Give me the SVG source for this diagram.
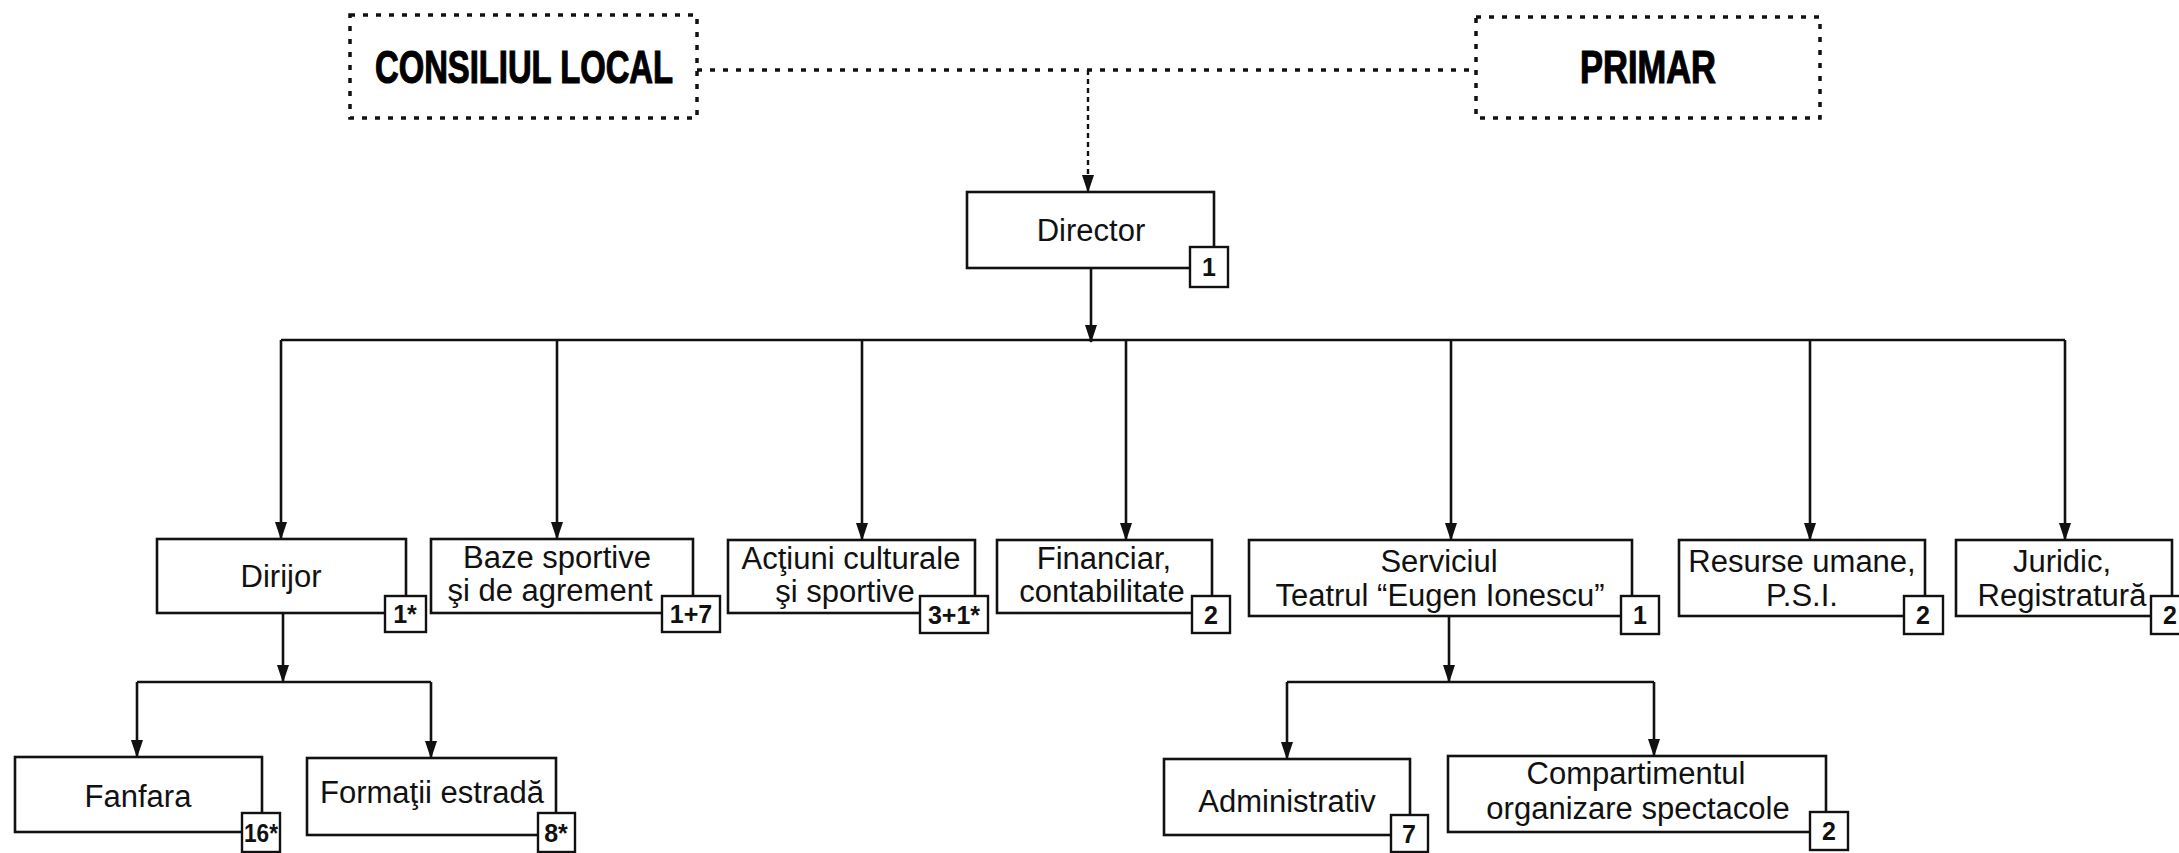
<svg xmlns="http://www.w3.org/2000/svg" width="2179" height="853" viewBox="0 0 2179 853">
<style>
  .box{fill:#fff;stroke:#111;stroke-width:2.6}
  .dbox{fill:#fff;stroke:#111;stroke-width:3.5;stroke-dasharray:5 8}
  .badge{fill:#fff;stroke:#111;stroke-width:2.4}
  .t{font-family:"Liberation Sans",Arial,Helvetica,sans-serif;font-size:31px;fill:#111;text-anchor:middle}
  .b{font-family:"Liberation Sans",Arial,Helvetica,sans-serif;font-size:25px;font-weight:bold;fill:#111;text-anchor:middle}
  .h{font-family:"Liberation Sans",Arial,Helvetica,sans-serif;font-size:46px;font-weight:bold;fill:#000;stroke:#000;stroke-width:1.2;text-anchor:middle}
  .ln{fill:none;stroke:#111;stroke-width:2.6}
  .dl{fill:none;stroke:#111;stroke-width:3.5;stroke-dasharray:5 8}
  .dv{fill:none;stroke:#111;stroke-width:2.4;stroke-dasharray:5 4}
</style>
<defs>
  <marker id="arr" viewBox="0 0 18 12" refX="17" refY="6" markerWidth="18" markerHeight="12" markerUnits="userSpaceOnUse" orient="auto">
    <path d="M0,0 L18,6 L0,12 Z" fill="#111"/>
  </marker>
</defs>
<rect width="2179" height="853" fill="#fff"/>

<g id="connectors">
  <path class="dl" d="M697,70 H1476"/>
  <path class="dv" d="M1088,70 V192" marker-end="url(#arr)"/>
  <path class="ln" d="M1091,268 V342" marker-end="url(#arr)"/>
  <path class="ln" d="M281,340 H2065"/>
  <path class="ln" d="M281,340 V539" marker-end="url(#arr)"/>
  <path class="ln" d="M557,340 V539" marker-end="url(#arr)"/>
  <path class="ln" d="M862,340 V540" marker-end="url(#arr)"/>
  <path class="ln" d="M1126,340 V540" marker-end="url(#arr)"/>
  <path class="ln" d="M1451,340 V540" marker-end="url(#arr)"/>
  <path class="ln" d="M1810,340 V540" marker-end="url(#arr)"/>
  <path class="ln" d="M2065,340 V540" marker-end="url(#arr)"/>
  <path class="ln" d="M283,613 V682" marker-end="url(#arr)"/>
  <path class="ln" d="M137,682 H431"/>
  <path class="ln" d="M137,682 V757" marker-end="url(#arr)"/>
  <path class="ln" d="M431,682 V758" marker-end="url(#arr)"/>
  <path class="ln" d="M1449,616 V682" marker-end="url(#arr)"/>
  <path class="ln" d="M1287,682 H1654"/>
  <path class="ln" d="M1287,682 V759" marker-end="url(#arr)"/>
  <path class="ln" d="M1654,682 V756" marker-end="url(#arr)"/>
</g>

<g id="consiliul">
  <rect class="dbox" x="350" y="15" width="347" height="103"/>
  <text class="h" x="524" y="83" textLength="298" lengthAdjust="spacingAndGlyphs">CONSILIUL LOCAL</text>
</g>
<g id="primar">
  <rect class="dbox" x="1476" y="17" width="344" height="101"/>
  <text class="h" x="1648" y="83" textLength="136" lengthAdjust="spacingAndGlyphs">PRIMAR</text>
</g>

<g id="director">
  <rect class="box" x="967" y="192" width="247" height="76"/>
  <text class="t" x="1091" y="241">Director</text>
  <rect class="badge" x="1190" y="247" width="38" height="40"/>
  <text class="b" x="1209" y="276">1</text>
</g>

<g id="dirijor">
  <rect class="box" x="157" y="539" width="249" height="74"/>
  <text class="t" x="281" y="587">Dirijor</text>
  <rect class="badge" x="385" y="596" width="41" height="36"/>
  <text class="b" x="405" y="623">1*</text>
</g>

<g id="baze">
  <rect class="box" x="431" y="539" width="262" height="74"/>
  <text class="t" x="557" y="568">Baze sportive</text>
  <text class="t" x="550" y="601">şi de agrement</text>
  <rect class="badge" x="662" y="596" width="58" height="36"/>
  <text class="b" x="691" y="623">1+7</text>
</g>

<g id="actiuni">
  <rect class="box" x="728" y="540" width="247" height="73"/>
  <text class="t" x="851" y="569">Acţiuni culturale</text>
  <text class="t" x="845" y="602">şi sportive</text>
  <rect class="badge" x="920" y="596" width="68" height="37"/>
  <text class="b" x="954" y="624">3+1*</text>
</g>

<g id="financiar">
  <rect class="box" x="997" y="540" width="215" height="73"/>
  <text class="t" x="1104" y="569">Financiar,</text>
  <text class="t" x="1102" y="602">contabilitate</text>
  <rect class="badge" x="1192" y="596" width="38" height="37"/>
  <text class="b" x="1211" y="624">2</text>
</g>

<g id="serviciul">
  <rect class="box" x="1249" y="540" width="383" height="76"/>
  <text class="t" x="1439" y="572">Serviciul</text>
  <text class="t" x="1440" y="606">Teatrul “Eugen Ionescu”</text>
  <rect class="badge" x="1621" y="596" width="38" height="38"/>
  <text class="b" x="1640" y="624">1</text>
</g>

<g id="resurse">
  <rect class="box" x="1679" y="540" width="246" height="76"/>
  <text class="t" x="1802" y="572">Resurse umane,</text>
  <text class="t" x="1802" y="606">P.S.I.</text>
  <rect class="badge" x="1904" y="596" width="39" height="38"/>
  <text class="b" x="1923" y="624">2</text>
</g>

<g id="juridic">
  <rect class="box" x="1956" y="540" width="216" height="76"/>
  <text class="t" x="2062" y="572">Juridic,</text>
  <text class="t" x="2062" y="606">Registratură</text>
  <rect class="badge" x="2151" y="596" width="38" height="38"/>
  <text class="b" x="2170" y="624">2</text>
</g>

<g id="fanfara">
  <rect class="box" x="15" y="757" width="247" height="75"/>
  <text class="t" x="138" y="807">Fanfara</text>
  <rect class="badge" x="242" y="813" width="38" height="39"/>
  <text class="b" x="261" y="842" textLength="34" lengthAdjust="spacingAndGlyphs">16*</text>
</g>

<g id="formatii">
  <rect class="box" x="307" y="758" width="249" height="77"/>
  <text class="t" x="432" y="803">Formaţii estradă</text>
  <rect class="badge" x="538" y="813" width="37" height="39"/>
  <text class="b" x="556" y="842">8*</text>
</g>

<g id="administrativ">
  <rect class="box" x="1164" y="759" width="246" height="76"/>
  <text class="t" x="1287" y="812">Administrativ</text>
  <rect class="badge" x="1391" y="815" width="37" height="37"/>
  <text class="b" x="1409" y="843">7</text>
</g>

<g id="compartimentul">
  <rect class="box" x="1448" y="756" width="378" height="76"/>
  <text class="t" x="1636" y="784">Compartimentul</text>
  <text class="t" x="1638" y="819">organizare spectacole</text>
  <rect class="badge" x="1810" y="812" width="38" height="38"/>
  <text class="b" x="1829" y="840">2</text>
</g>
</svg>
